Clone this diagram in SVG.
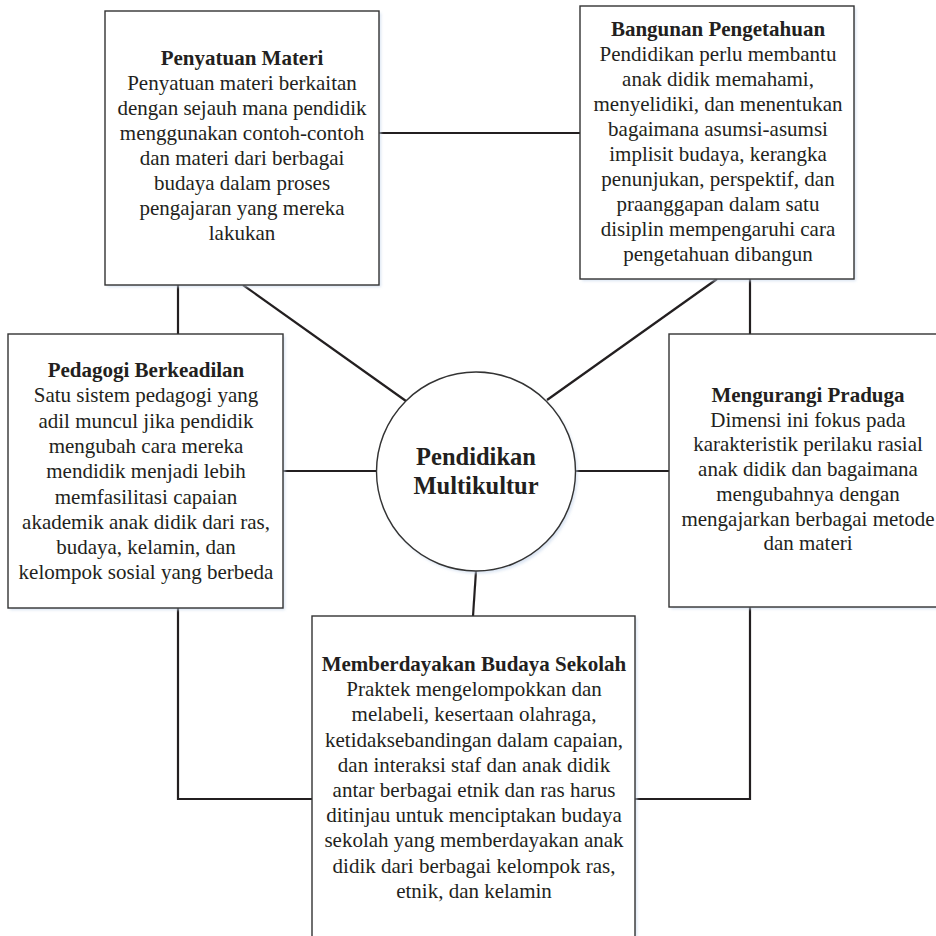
<svg xmlns="http://www.w3.org/2000/svg" width="936" height="936" viewBox="0 0 936 936">
<defs>
<filter id="sh" x="-5%" y="-5%" width="115%" height="115%">
<feGaussianBlur stdDeviation="1.5"/>
</filter>
<style>
.bx{fill:#ffffff;stroke:#333333;stroke-width:1.4}
.shd{fill:#c9d8ec;opacity:0.7;filter:url(#sh)}
.ln{stroke:#231f20;stroke-width:2.2;fill:none}
.t{font-family:"Liberation Serif","Times New Roman",serif;font-size:21px;fill:#231f20;text-anchor:middle}
.b{font-weight:bold}
.c{font-family:"Liberation Serif","Times New Roman",serif;font-size:24.5px;font-weight:bold;fill:#231f20;text-anchor:middle}
</style>
</defs>
<rect width="936" height="936" fill="#ffffff"/>
<g id="connectors">
<line class="ln" x1="379" y1="133" x2="580" y2="133"/>
<line class="ln" x1="243" y1="285" x2="406" y2="401"/>
<line class="ln" x1="717" y1="279" x2="547" y2="400"/>
<line class="ln" x1="178" y1="285" x2="178" y2="334"/>
<line class="ln" x1="750" y1="279" x2="750" y2="334"/>
<line class="ln" x1="283" y1="471" x2="376" y2="471"/>
<line class="ln" x1="576" y1="471" x2="669" y2="471"/>
<line class="ln" x1="476" y1="571" x2="473" y2="616"/>
<polyline class="ln" points="178,608 178,799 312,799"/>
<polyline class="ln" points="750,607 750,799 635,799"/>
</g>
<g id="penyatuan">
<rect class="shd" x="107" y="13" width="274" height="274"/>
<rect class="bx" x="105" y="11" width="274" height="274"/>
<text class="t" x="242" y="65"><tspan class="b">Penyatuan Materi</tspan><tspan x="242" dy="25">Penyatuan materi berkaitan</tspan><tspan x="242" dy="25">dengan sejauh mana pendidik</tspan><tspan x="242" dy="25">menggunakan contoh-contoh</tspan><tspan x="242" dy="25">dan materi dari berbagai</tspan><tspan x="242" dy="25">budaya dalam proses</tspan><tspan x="242" dy="25">pengajaran yang mereka</tspan><tspan x="242" dy="25">lakukan</tspan></text>
</g>
<g id="bangunan">
<rect class="shd" x="582" y="8" width="274" height="273"/>
<rect class="bx" x="580" y="6" width="274" height="273"/>
<text class="t" x="718" y="36"><tspan class="b">Bangunan Pengetahuan</tspan><tspan x="718" dy="25">Pendidikan perlu membantu</tspan><tspan x="718" dy="25">anak didik memahami,</tspan><tspan x="718" dy="25">menyelidiki, dan menentukan</tspan><tspan x="718" dy="25">bagaimana asumsi-asumsi</tspan><tspan x="718" dy="25">implisit budaya, kerangka</tspan><tspan x="718" dy="25">penunjukan, perspektif, dan</tspan><tspan x="718" dy="25">praanggapan dalam satu</tspan><tspan x="718" dy="25">disiplin mempengaruhi cara</tspan><tspan x="718" dy="25">pengetahuan dibangun</tspan></text>
</g>
<g id="pedagogi">
<rect class="shd" x="10" y="336" width="275" height="274"/>
<rect class="bx" x="8" y="334" width="275" height="274"/>
<text class="t" x="146" y="377"><tspan class="b">Pedagogi Berkeadilan</tspan><tspan x="146" dy="25.3">Satu sistem pedagogi yang</tspan><tspan x="146" dy="25.3">adil muncul jika pendidik</tspan><tspan x="146" dy="25.3">mengubah cara mereka</tspan><tspan x="146" dy="25.3">mendidik menjadi lebih</tspan><tspan x="146" dy="25.3">memfasilitasi capaian</tspan><tspan x="146" dy="25.3">akademik anak didik dari ras,</tspan><tspan x="146" dy="25.3">budaya, kelamin, dan</tspan><tspan x="146" dy="25.3">kelompok sosial yang berbeda</tspan></text>
</g>
<g id="mengurangi">
<rect class="shd" x="671" y="336" width="280" height="273"/>
<rect class="bx" x="669" y="334" width="280" height="273"/>
<text class="t" x="808" y="402"><tspan class="b">Mengurangi Praduga</tspan><tspan x="808" dy="24.7">Dimensi ini fokus pada</tspan><tspan x="808" dy="24.7">karakteristik perilaku rasial</tspan><tspan x="808" dy="24.7">anak didik dan bagaimana</tspan><tspan x="808" dy="24.7">mengubahnya dengan</tspan><tspan x="808" dy="24.7">mengajarkan berbagai metode</tspan><tspan x="808" dy="24.7">dan materi</tspan></text>
</g>
<g id="memberdayakan">
<rect class="shd" x="314" y="618" width="323" height="330"/>
<rect class="bx" x="312" y="616" width="323" height="330"/>
<text class="t" x="474" y="671"><tspan class="b">Memberdayakan Budaya Sekolah</tspan><tspan x="474" dy="25.2">Praktek mengelompokkan dan</tspan><tspan x="474" dy="25.2">melabeli, kesertaan olahraga,</tspan><tspan x="474" dy="25.2">ketidaksebandingan dalam capaian,</tspan><tspan x="474" dy="25.2">dan interaksi staf dan anak didik</tspan><tspan x="474" dy="25.2">antar berbagai etnik dan ras harus</tspan><tspan x="474" dy="25.2">ditinjau untuk menciptakan budaya</tspan><tspan x="474" dy="25.2">sekolah yang memberdayakan anak</tspan><tspan x="474" dy="25.2">didik dari berbagai kelompok ras,</tspan><tspan x="474" dy="25.2">etnik, dan kelamin</tspan></text>
</g>
<g id="pusat">
<circle class="shd" cx="478" cy="474" r="99.5"/>
<circle class="bx" cx="476" cy="471.5" r="99.5"/>
<text class="c" x="476" y="465">Pendidikan<tspan x="476" dy="29">Multikultur</tspan></text>
</g>
</svg>
